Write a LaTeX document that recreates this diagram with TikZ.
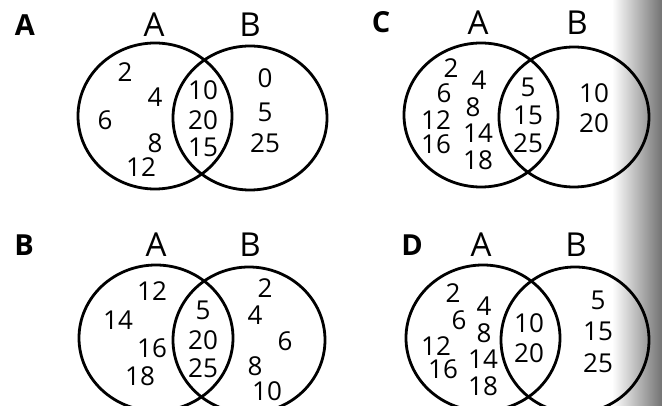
\documentclass[tikz,border=0pt]{standalone}
\usepackage{fontspec}
\setmainfont{Open Sans}
\usetikzlibrary{calc}

\begin{document}
\begin{tikzpicture}[x=1pt,y=-1pt,
  num/.style={font=\fontsize{26}{26}\selectfont,inner sep=0pt},
  setlab/.style={font=\fontsize{33}{33}\selectfont,inner sep=0pt},
  panel/.style={font=\bfseries\fontsize{29}{29}\selectfont,inner sep=0pt},
  ring/.style={line width=2.8pt}]
  \useasboundingbox (0,0) rectangle (662,406);
  \clip (0,0) rectangle (662,406);
  % page shadow at the right edge
  \shade[left color=white,right color=black!55] (612,0) rectangle (662,406);

  % panel A
  \node[panel] (hA) at (25,25) {A};
  \node[setlab] (pAa) at (154,25) {A};
  \node[setlab] (pAb) at (250,25) {B};
  \draw[ring] (155,116) ellipse [x radius=77pt,y radius=73pt];
  \draw[ring] (250,118) ellipse [x radius=77pt,y radius=72pt];
  \foreach \t/\x/\y [count=\i] in {2/125/72,4/155/97,6/105/120,8/155/143,12/141/167,
      10/203/90,20/203/120,15/203/147,0/265/78,5/265/112,25/265/143}
    \node[num] (a\i) at (\x,\y) {\t};

  % panel C
  \node[panel] (hC) at (381,22) {C};
  \node[setlab] (pCa) at (478,23) {A};
  \node[setlab] (pCb) at (577,23) {B};
  \draw[ring] (481,115) ellipse [x radius=77pt,y radius=72pt];
  \draw[ring] (574,117) ellipse [x radius=75pt,y radius=70pt];
  \foreach \t/\x/\y [count=\i] in {2/451/68,4/479/80,6/444/93,8/473/107,12/436/120,
      14/478/133,16/436/144,18/478/160,5/528/87,15/528/115,25/528/143,
      10/594/93,20/594/123}
    \node[num] (c\i) at (\x,\y) {\t};

  % panel B
  \node[panel] (hB) at (24,245) {B};
  \node[setlab] (pBa) at (156,245) {A};
  \node[setlab] (pBb) at (250,245) {B};
  \draw[ring] (156,338) ellipse [x radius=77pt,y radius=73pt];
  \draw[ring] (249,340) ellipse [x radius=76pt,y radius=73pt];
  \foreach \t/\x/\y [count=\i] in {12/152/291,14/118/320,16/152/348,18/140/376,
      5/203/310,20/203/340,25/203/368,2/265/288,4/255/315,6/285/341,
      8/255/366,10/267/391}
    \node[num] (b\i) at (\x,\y) {\t};

  % panel D
  \node[panel] (hD) at (412,245) {D};
  \node[setlab] (pDa) at (481,245) {A};
  \node[setlab] (pDb) at (576,245) {B};
  \draw[ring] (483,338) ellipse [x radius=77pt,y radius=73pt];
  \draw[ring] (575,340) ellipse [x radius=74pt,y radius=73pt];
  \foreach \t/\x/\y [count=\i] in {2/453/293,4/484/306,6/459/320,8/484/333,
      12/436/346,14/483/359,16/443/369,18/483/386,10/529/323,20/529/353,
      5/598/300,15/598/331,25/598/363}
    \node[num] (d\i) at (\x,\y) {\t};
\end{tikzpicture}
\end{document}
